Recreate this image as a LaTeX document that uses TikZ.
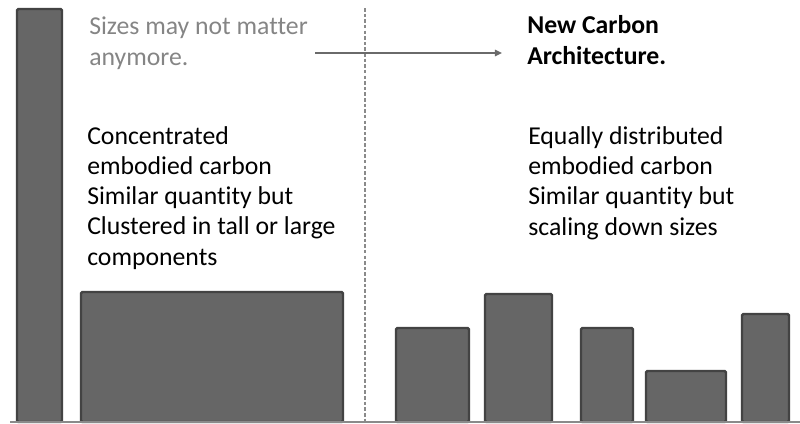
\documentclass[tikz,border=0pt]{standalone}
\usepackage{fontspec}
\setmainfont{Carlito}[Ligatures=NoCommon]
\usetikzlibrary{arrows.meta}
\definecolor{barfill}{HTML}{666666}
\definecolor{barline}{HTML}{434343}
\definecolor{notegray}{HTML}{858585}
\definecolor{rulegray}{HTML}{8A8A8A}

\begin{document}
\begin{tikzpicture}[x=0.025cm,y=-0.025cm,
  bar/.style={fill=barfill,draw=barline,line width=1.7pt,rounded corners=1pt},
  txt/.style={anchor=base west,align=left,inner sep=0pt,font=\fontsize{18.3}{21.5}\selectfont},
  arr/.style={draw=notegray!80!black,line width=1.2pt,-{Triangle[length=5pt,width=4.5pt]}}]
\useasboundingbox (0,0) rectangle (800,423);
\draw[rulegray,line width=1pt,dash pattern=on 2.5pt off 1.5pt] (365,8) -- (365,422);
\draw[bar] (17,9) rectangle (62,422);
\draw[bar] (81,292) rectangle (343,422);
\foreach \xa/\xb/\top in {396/469/328,485/552/294,581/633/328,646/726/371,742/789/314}
  \draw[bar] (\xa,\top) rectangle (\xb,422);
\draw[rulegray,line width=1.1pt] (10,422) -- (800,422);
\node[txt,text=notegray] (sizes) at (89,65) {Sizes may not matter\\anymore.};
\node[txt,font=\fontsize{18.3}{21.5}\selectfont\bfseries] (title) at (527,64) {New Carbon\\Architecture.};
\node[txt] (concentrated) at (87,265) {Concentrated\\embodied carbon\\Similar quantity but\\Clustered in tall or large\\components};
\node[txt] (distributed) at (528,235) {Equally distributed\\embodied carbon\\Similar quantity but\\scaling down sizes};
\coordinate (arrS) at (315,53);
\coordinate (arrE) at (502,53);
\draw[arr] (arrS) -- (arrE);
\end{tikzpicture}
\end{document}
